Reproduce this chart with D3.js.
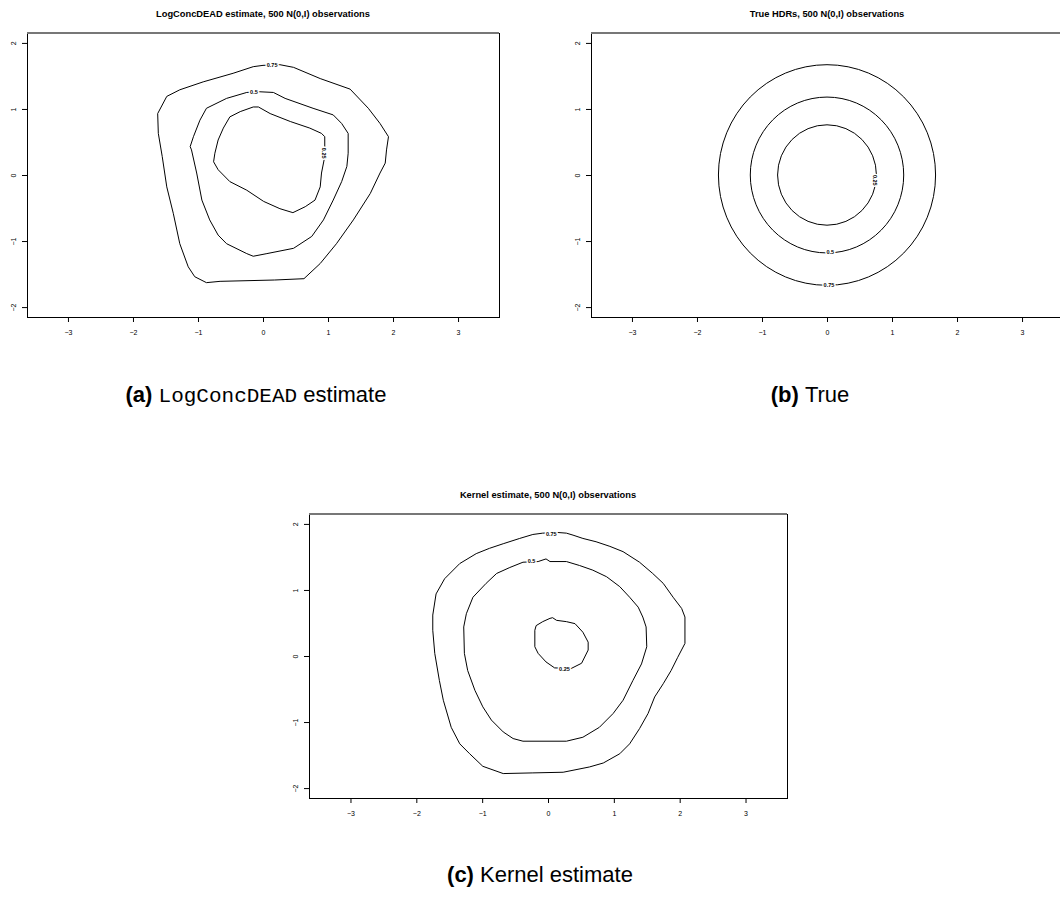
<!DOCTYPE html>
<html>
<head>
<meta charset="utf-8">
<script src="https://cdn.jsdelivr.net/npm/d3@7"></script>
<style>
  body { margin: 0; background: #fff; }
  svg { display: block; font-family: "Liberation Sans", Arial, sans-serif; }
</style>
</head>
<body>
<div id="chart"></div>
<script>
// tick values shared by all three panels
const xTicks = [-3, -2, -1, 0, 1, 2, 3];
const yTicks = [-2, -1, 0, 1, 2];

// LogConcDEAD estimate, contour polylines (x, y)
const lcd25 = [[0.95,0.43],[0.95,0.58],[0.90,0.63],[0.72,0.71],[0.42,0.81],[0.11,0.93],[-0.07,1.03],[-0.15,1.03],[-0.35,0.96],[-0.51,0.88],[-0.61,0.71],[-0.69,0.53],[-0.74,0.33],[-0.76,0.20],[-0.69,0.08],[-0.51,-0.10],[-0.25,-0.23],[0.01,-0.40],[0.26,-0.51],[0.46,-0.57],[0.65,-0.48],[0.80,-0.38],[0.88,-0.18],[0.90,0.03],[0.94,0.23],[0.95,0.43]];
const lcd50 = [[-0.05,1.26],[0.16,1.25],[0.34,1.16],[0.77,1.01],[1.08,0.91],[1.21,0.78],[1.31,0.63],[1.31,0.33],[1.29,0.13],[1.21,-0.10],[1.08,-0.38],[0.93,-0.68],[0.75,-0.93],[0.47,-1.11],[0.06,-1.19],[-0.15,-1.23],[-0.25,-1.19],[-0.56,-1.04],[-0.69,-0.91],[-0.82,-0.68],[-0.94,-0.38],[-1.02,0.03],[-1.10,0.38],[-1.12,0.43],[-1.07,0.58],[-0.97,0.83],[-0.87,1.01],[-0.56,1.16],[-0.25,1.25],[-0.05,1.26]];
const lcd75 = [[0.0,1.66],[0.26,1.67],[0.47,1.63],[0.88,1.46],[1.34,1.30],[1.62,1.01],[1.80,0.78],[1.93,0.58],[1.90,0.38],[1.88,0.18],[1.80,0.03],[1.65,-0.28],[1.39,-0.68],[1.13,-1.04],[0.88,-1.34],[0.63,-1.57],[0.18,-1.59],[-0.66,-1.61],[-0.87,-1.63],[-1.05,-1.54],[-1.15,-1.39],[-1.28,-1.04],[-1.38,-0.58],[-1.48,-0.18],[-1.55,0.28],[-1.61,0.63],[-1.62,0.93],[-1.48,1.19],[-1.28,1.29],[-0.92,1.41],[-0.46,1.54],[-0.15,1.64],[0.0,1.66]];

// true HDRs: circle radii
const trueRadii = [0.76, 1.18, 1.67];

// kernel estimate contours
const ker25 = [[0.35,-0.19],[0.51,-0.11],[0.61,0.09],[0.61,0.21],[0.53,0.36],[0.41,0.49],[0.28,0.52],[0.13,0.54],[0.07,0.58],[0.03,0.57],[-0.08,0.52],[-0.18,0.46],[-0.20,0.39],[-0.20,0.14],[-0.15,0.04],[-0.03,-0.09],[0.10,-0.18],[0.35,-0.19]];
const ker50 = [[-0.15,1.43],[-0.03,1.47],[0.03,1.43],[0.28,1.43],[0.48,1.37],[0.68,1.30],[0.89,1.20],[1.09,1.05],[1.24,0.89],[1.37,0.74],[1.44,0.59],[1.49,0.44],[1.50,0.14],[1.42,-0.12],[1.29,-0.37],[1.14,-0.67],[0.99,-0.87],[0.78,-1.08],[0.53,-1.23],[0.28,-1.29],[-0.38,-1.29],[-0.53,-1.25],[-0.68,-1.15],[-0.86,-0.97],[-0.99,-0.77],[-1.11,-0.52],[-1.22,-0.22],[-1.27,0.04],[-1.28,0.44],[-1.24,0.64],[-1.14,0.89],[-0.94,1.10],[-0.78,1.25],[-0.58,1.34],[-0.38,1.42],[-0.15,1.43]];
const ker75 = [[-0.08,1.86],[0.15,1.87],[0.28,1.86],[0.38,1.83],[0.53,1.78],[0.73,1.73],[0.94,1.66],[1.14,1.58],[1.39,1.42],[1.59,1.25],[1.75,1.10],[1.90,0.89],[2.03,0.72],[2.08,0.59],[2.08,0.19],[1.97,-0.02],[1.87,-0.22],[1.75,-0.42],[1.62,-0.62],[1.52,-0.87],[1.39,-1.10],[1.24,-1.33],[1.09,-1.48],[0.84,-1.62],[0.63,-1.68],[0.23,-1.76],[-0.23,-1.77],[-0.68,-1.78],[-0.99,-1.67],[-1.19,-1.48],[-1.34,-1.33],[-1.47,-1.08],[-1.59,-0.67],[-1.65,-0.37],[-1.72,0.04],[-1.75,0.39],[-1.75,0.62],[-1.70,0.94],[-1.57,1.17],[-1.34,1.40],[-1.09,1.55],[-0.89,1.63],[-0.68,1.70],[-0.43,1.78],[-0.23,1.84],[-0.08,1.86]];

// contour labels: text, x, y, rotation
const lcdLabels = [["0.75",0.14,1.67,0],["0.5",-0.14,1.25,0],["0.25",0.94,0.33,90]];
const trueLabels = [["0.75",0.03,-1.67,0],["0.5",0.05,-1.17,0],["0.25",0.74,-0.08,90]];
const kerLabels = [["0.75",0.05,1.85,0],["0.5",-0.25,1.43,0],["0.25",0.25,-0.20,0]];

const svg = d3.select("#chart").append("svg")
    .attr("width", 1060)
    .attr("height", 903);

const fmt = d3.format("d");

function drawPanel(p) {
    const x = d3.scaleLinear().domain([-3.63, 3.63]).range([p.left, p.right]);
    const y = d3.scaleLinear().domain([-2.15, 2.15]).range([p.bottom, p.top]);
    const g = svg.append("g");

    // titulo
    g.append("text")
        .attr("x", x(0)).attr("y", p.top - 16)
        .attr("text-anchor", "middle")
        .attr("font-weight", "bold")
        .attr("font-size", 9.3)
        .text(p.title);

    // eixo x
    const xa = g.append("g")
        .attr("transform", `translate(0,${p.bottom})`)
        .call(d3.axisBottom(x).tickValues(xTicks).tickSize(5).tickPadding(8).tickFormat(fmt));
    xa.select(".domain").remove();
    xa.selectAll("text").attr("font-size", 7).attr("fill", "#000")
        .attr("font-family", "Liberation Sans, Arial, sans-serif");

    // eixo y (labels rodados como no R)
    const ya = g.append("g")
        .attr("transform", `translate(${p.left},0)`)
        .call(d3.axisLeft(y).tickValues(yTicks).tickSize(5).tickFormat(fmt));
    ya.select(".domain").remove();
    ya.selectAll("text")
        .attr("font-size", 7)
        .attr("fill", "#000")
        .attr("font-family", "Liberation Sans, Arial, sans-serif")
        .attr("transform", "rotate(-90)")
        .attr("text-anchor", "middle")
        .attr("x", 0).attr("y", -11).attr("dy", 0);

    // caixa
    g.append("rect")
        .attr("x", p.left + 0.5).attr("y", p.top + 0.5)
        .attr("width", p.right - p.left).attr("height", p.bottom - p.top)
        .attr("fill", "none").attr("stroke", "#000").attr("stroke-width", 1);
    g.append("line")
        .attr("x1", p.left).attr("x2", p.right)
        .attr("y1", p.top).attr("y2", p.top)
        .attr("stroke", "#777").attr("stroke-width", 2);

    const line = d3.line().x(d => x(d[0])).y(d => y(d[1]));
    const marks = g.append("g");

    if (p.lines) {
        marks.selectAll("path.ct")
            .data(p.lines)
            .join("path")
            .attr("class", "ct")
            .attr("d", line)
            .attr("fill", "none")
            .attr("stroke", "#000")
            .attr("stroke-width", 1);
    }
    if (p.radii) {
        marks.selectAll("ellipse")
            .data(p.radii)
            .join("ellipse")
            .attr("cx", x(0)).attr("cy", y(0))
            .attr("rx", d => x(d) - x(0))
            .attr("ry", d => y(0) - y(d))
            .attr("fill", "none")
            .attr("stroke", "#000")
            .attr("stroke-width", 1);
    }

    // labels das curvas de nivel
    marks.selectAll("text.lab")
        .data(p.labels)
        .join("text")
        .attr("class", "lab")
        .attr("transform", d => `translate(${x(d[1])},${y(d[2])}) rotate(${d[3]})`)
        .attr("text-anchor", "middle")
        .attr("dy", "0.35em")
        .attr("font-size", 5.5)
        .attr("font-weight", "bold")
        .attr("stroke", "#fff")
        .attr("stroke-width", 3)
        .attr("paint-order", "stroke")
        .attr("fill", "#000")
        .text(d => d[0]);
}

drawPanel({left: 27, right: 499, top: 33, bottom: 317,
    title: "LogConcDEAD estimate, 500 N(0,I) observations",
    lines: [lcd25, lcd50, lcd75], labels: lcdLabels});
drawPanel({left: 591, right: 1063, top: 33, bottom: 317,
    title: "True HDRs, 500 N(0,I) observations",
    radii: trueRadii, labels: trueLabels});
drawPanel({left: 309, right: 787, top: 514, bottom: 798,
    title: "Kernel estimate, 500 N(0,I) observations",
    lines: [ker25, ker50, ker75], labels: kerLabels});

// legendas das subfiguras
function caption(cx, cy, tag, parts) {
    const t = svg.append("text")
        .attr("x", cx).attr("y", cy)
        .attr("text-anchor", "middle")
        .attr("font-size", 22);
    t.append("tspan").attr("font-weight", "bold").text(tag + " ");
    parts.forEach(s => {
        t.append("tspan")
            .attr("font-family", s.mono ? "Liberation Mono, monospace" : null)
            .attr("font-size", s.mono ? 21 : null)
            .text(s.text);
    });
}
caption(256, 402, "(a)", [{text: "LogConcDEAD", mono: true}, {text: " estimate"}]);
caption(810, 402, "(b)", [{text: "True"}]);
caption(540, 882, "(c)", [{text: "Kernel estimate"}]);
</script>
</body>
</html>
